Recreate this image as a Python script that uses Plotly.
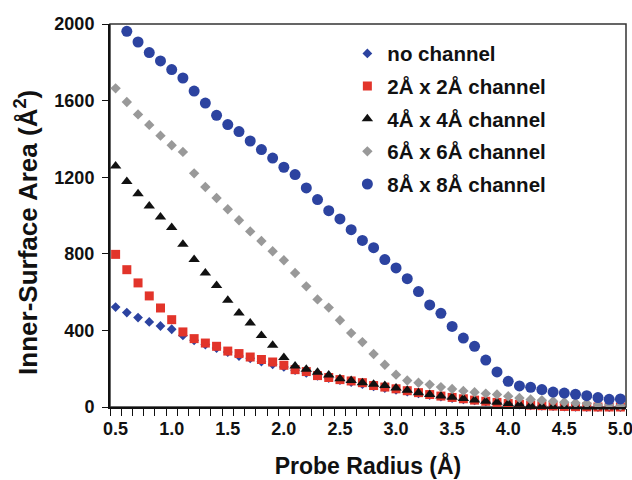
import numpy as np
import plotly.graph_objects as go

# Probe radius (Å)
radius = [round(0.5 + 0.1 * i, 1) for i in range(46)]

no_channel = [522, 493, 467, 444, 423, 406, 374, 348, 326, 308,
              287, 266, 254, 237, 223, 209, 192, 178, 163, 151,
              140, 130, 119, 108, 99, 90, 80, 71, 62, 54,
              47, 40, 34, 28, 22, 17, 13, 9, 6, 4,
              2, 1, 0, 0, 0, 0]
ch_2x2 = [797, 717, 648, 580, 517, 456, 392, 357, 334, 317,
          292, 279, 261, 248, 235, 218, 195, 185, 164, 154,
          143, 136, 127, 112, 104, 95, 85, 75, 65, 57,
          50, 43, 36, 30, 24, 18, 14, 10, 7, 5,
          3, 2, 1, 0, 0, 0]
ch_4x4 = [1258, 1177, 1114, 1049, 992, 937, 850, 770, 700, 634,
          557, 491, 439, 374, 322, 258, 214, 197, 181, 167,
          148, 139, 127, 119, 112, 99, 87, 75, 65, 57,
          51, 44, 37, 30, 25, 18, 14, 9, 5, 3,
          2, 1, 0, 0, 0, 0]
ch_6x6 = [1664, 1593, 1528, 1473, 1417, 1367, 1332, 1220, 1149, 1091,
          1033, 975, 917, 867, 813, 766, 700, 630, 562, 519,
          453, 386, 339, 277, 221, 169, 138, 127, 117, 104,
          94, 84, 77, 70, 65, 56, 47, 39, 35, 30,
          25, 21, 18, 10, 10, 7]
ch_8x8 = [None, 1962, 1906, 1851, 1807, 1762, 1718, 1650, 1587, 1523,
          1475, 1438, 1389, 1344, 1300, 1252, 1214, 1144, 1083, 1025,
          982, 926, 870, 832, 770, 726, 670, 603, 533, 489,
          421, 360, 317, 245, 183, 134, 110, 103, 91, 78,
          73, 66, 59, 49, 40, 42]

series_names = ["no channel", "2Å x 2Å channel", "4Å x 4Å channel",
                "6Å x 6Å channel", "8Å x 8Å channel"]
x_tick_labels = ["0.5", "1.0", "1.5", "2.0", "2.5", "3.0", "3.5", "4.0", "4.5", "5.0"]
x_tick_vals = [0.5, 1.0, 1.5, 2.0, 2.5, 3.0, 3.5, 4.0, 4.5, 5.0]
y_tick_vals = [0, 400, 800, 1200, 1600, 2000]
x_title = "Probe Radius (Å)"
y_title = "Inner-Surface Area (Å<sup>2</sup>)"

styles = [
    dict(symbol="diamond", size=7.5, color="#2C43A0"),
    dict(symbol="square", size=9, color="#E2342A"),
    dict(symbol="triangle-up", size=10, color="#111111"),
    dict(symbol="diamond", size=8, color="#999999"),
    dict(symbol="circle", size=11, color="#2C43A0"),
]
data = [no_channel, ch_2x2, ch_4x4, ch_6x6, ch_8x8]

FONT = "Liberation Sans, Arial, Helvetica, sans-serif"

fig = go.Figure()
for i, (name, ys, st) in enumerate(zip(series_names, data, styles)):
    fig.add_trace(go.Scatter(
        x=radius, y=ys, mode="markers", name=name,
        legendgroup=f"g{i}",
        marker=dict(symbol=st["symbol"], size=st["size"], color=st["color"],
                    line=dict(width=0)),
        cliponaxis=False,
    ))

minor_vals = [round(0.45 + 0.1 * k, 2) for k in range(47)]

fig.update_layout(
    width=632, height=480,
    margin=dict(l=110, r=6, t=24, b=73, autoexpand=False),
    plot_bgcolor="white", paper_bgcolor="white",
    font=dict(family=FONT, color="#111111", weight="bold"),
    showlegend=True,
    legend=dict(
        x=0.46, y=0.975, xanchor="left", yanchor="top",
        bgcolor="rgba(0,0,0,0)", borderwidth=0,
        font=dict(family=FONT, size=20.5, color="#111111", weight="bold"),
        tracegroupgap=3, itemsizing="trace",
    ),
    xaxis=dict(
        range=[0.45, 5.05], showgrid=False, zeroline=False, automargin=False,
        showline=True, linewidth=2, linecolor="#111111",
        tickmode="array", tickvals=x_tick_vals, ticktext=x_tick_labels,
        ticks="", ticklen=0, ticklabeloverflow="allow",
        minor=dict(tickmode="array", tickvals=minor_vals, ticks="outside",
                   ticklen=7, tickwidth=1.2, tickcolor="#111111", showgrid=False),
        tickfont=dict(family=FONT, size=18, color="#111111", weight="bold"),
        ticklabelstandoff=4,
        title=dict(text=x_title, standoff=20,
                   font=dict(family=FONT, size=23, color="#111111", weight="bold")),
    ),
    yaxis=dict(
        range=[0, 2000], showgrid=False, zeroline=False, automargin=False,
        showline=True, linewidth=2, linecolor="#111111",
        tickmode="array", tickvals=y_tick_vals,
        ticks="outside", ticklen=6, tickwidth=1.2, tickcolor="#111111",
        tickfont=dict(family=FONT, size=18, color="#111111", weight="bold"),
        ticklabelstandoff=4,
    ),
)

# y-axis title, positioned as in the reference (slightly below plot centre)
fig.add_annotation(
    text=y_title, textangle=-90, showarrow=False,
    xref="paper", yref="paper", x=-0.161, y=0.457,
    xanchor="center", yanchor="middle",
    font=dict(family=FONT, size=26, color="#111111", weight="bold"),
)

# plot frame (top and right borders)
fig.add_shape(type="rect", xref="paper", yref="paper", x0=0, x1=1, y0=0, y1=1,
              line=dict(color="#333333", width=1.5), layer="below")

fig.write_html("out.html")
